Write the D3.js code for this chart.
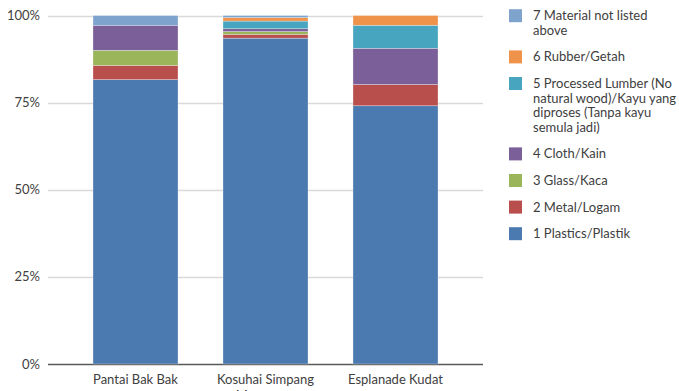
<!DOCTYPE html>
<html>
<head>
  <meta charset="utf-8">
  <script src="https://d3js.org/d3.v7.min.js"></script>
  <style>
    body { margin: 0; background: #fff; }
    svg { display: block; }
    text { font-family: Lato, sans-serif; fill: #404040; }
    .tick-label { font-size: 13px; text-anchor: end; }
    .cat-label { font-size: 13px; text-anchor: middle; }
    .legend-label { font-size: 13px; }
  </style>
</head>
<body>
  <svg width="679" height="391"></svg>
  <script>
    // sites on the x axis
    var sites = ["Pantai Bak Bak", "Kosuhai Simpang Mengayau", "Esplanade Kudat"];

    // material series, bottom of the stack first
    var materials = [
      "1 Plastics/Plastik",
      "2 Metal/Logam",
      "3 Glass/Kaca",
      "4 Cloth/Kain",
      "5 Processed Lumber (No natural wood)/Kayu yang diproses (Tanpa kayu semula jadi)",
      "6 Rubber/Getah",
      "7 Material not listed above"
    ];
    var materialColors = ["#4a7ab0", "#b94f4c", "#9ab55a", "#7a5f99", "#47a5bf", "#ef924a", "#7ea3cc"];

    // share of items per site (%), one array per material
    var plastics = [81.6, 93.5, 74.1];
    var metal    = [4.1, 1.1, 6.1];
    var glass    = [4.3, 0.8, 0];
    var cloth    = [7.2, 0.8, 10.4];
    var lumber   = [0, 2.2, 6.6];
    var rubber   = [0, 1.0, 2.8];
    var other    = [2.8, 0.6, 0];

    var yTicks = [0, 25, 50, 75, 100];

    var series = [plastics, metal, glass, cloth, lumber, rubber, other];
    var rows = sites.map(function(s, i) {
      var r = {site: s};
      materials.forEach(function(m, j) { r[m] = series[j][i]; });
      return r;
    });

    var svg = d3.select("svg");
    var plotLeft = 48, plotRight = 483;

    var x = d3.scaleBand().domain(sites).range([70.5, 460.5]).paddingInner(0.346).paddingOuter(0.173);
    var y = d3.scaleLinear().domain([0, 100]).range([364, 15.5]);
    var color = d3.scaleOrdinal().domain(materials).range(materialColors);

    var stacked = d3.stack().keys(materials)(rows);

    // gridlines
    svg.append("g").selectAll("line")
      .data(yTicks)
      .join("line")
        .attr("x1", plotLeft)
        .attr("x2", plotRight)
        .attr("y1", d => Math.round(y(d)) + 0.5)
        .attr("y2", d => Math.round(y(d)) + 0.5)
        .attr("stroke", d => d === 0 ? "#595959" : "#d9d9d9")
        .attr("stroke-width", 1.5);

    svg.append("g").selectAll("text")
      .data(yTicks)
      .join("text")
        .attr("class", "tick-label")
        .attr("x", 40)
        .attr("y", d => y(d) + 4.5)
        .text(d => d + "%");

    // bars
    svg.append("g").selectAll("g")
      .data(stacked)
      .join("g")
        .attr("fill", d => color(d.key))
      .selectAll("rect")
      .data(d => d)
      .join("rect")
        .attr("x", d => x(d.data.site))
        .attr("width", x.bandwidth())
        .attr("y", d => y(d[1]))
        .attr("height", d => y(d[0]) - y(d[1]))
        .attr("stroke", "#ffffff")
        .attr("stroke-opacity", 0.5)
        .attr("stroke-width", 0.6);

    function wrap(textSel, width, lineHeight) {
      textSel.each(function() {
        var text = d3.select(this),
            words = text.text().split(/\s+/),
            xPos = text.attr("x"),
            line = [],
            tspan = text.text(null).append("tspan").attr("x", xPos).attr("dy", 0);
        words.forEach(function(w) {
          line.push(w);
          tspan.text(line.join(" "));
          if (tspan.node().getComputedTextLength() > width && line.length > 1) {
            line.pop();
            tspan.text(line.join(" "));
            line = [w];
            tspan = text.append("tspan").attr("x", xPos).attr("dy", lineHeight).text(w);
          }
        });
      });
    }

    // category labels
    svg.append("g").selectAll("text")
      .data(sites)
      .join("text")
        .attr("class", "cat-label")
        .attr("x", d => x(d) + x.bandwidth() / 2)
        .attr("y", 384)
        .text(d => d)
        .call(wrap, x.step() - 10, 16);

    // legend, top series first
    var legendX = 509, textX = 533, lineH = 14.6;
    var ly = 15.7;
    materials.slice().reverse().forEach(function(m) {
      var g = svg.append("g");
      var t = g.append("text")
        .attr("class", "legend-label")
        .attr("x", textX)
        .attr("y", ly + 4.5)
        .text(m)
        .call(wrap, 145, lineH);
      var n = t.selectAll("tspan").size();
      g.append("rect")
        .attr("x", legendX)
        .attr("y", ly - 6.5)
        .attr("width", 13)
        .attr("height", 13)
        .attr("fill", color(m));
      ly += (n - 1) * lineH + 26.6;
    });
  </script>
</body>
</html>
